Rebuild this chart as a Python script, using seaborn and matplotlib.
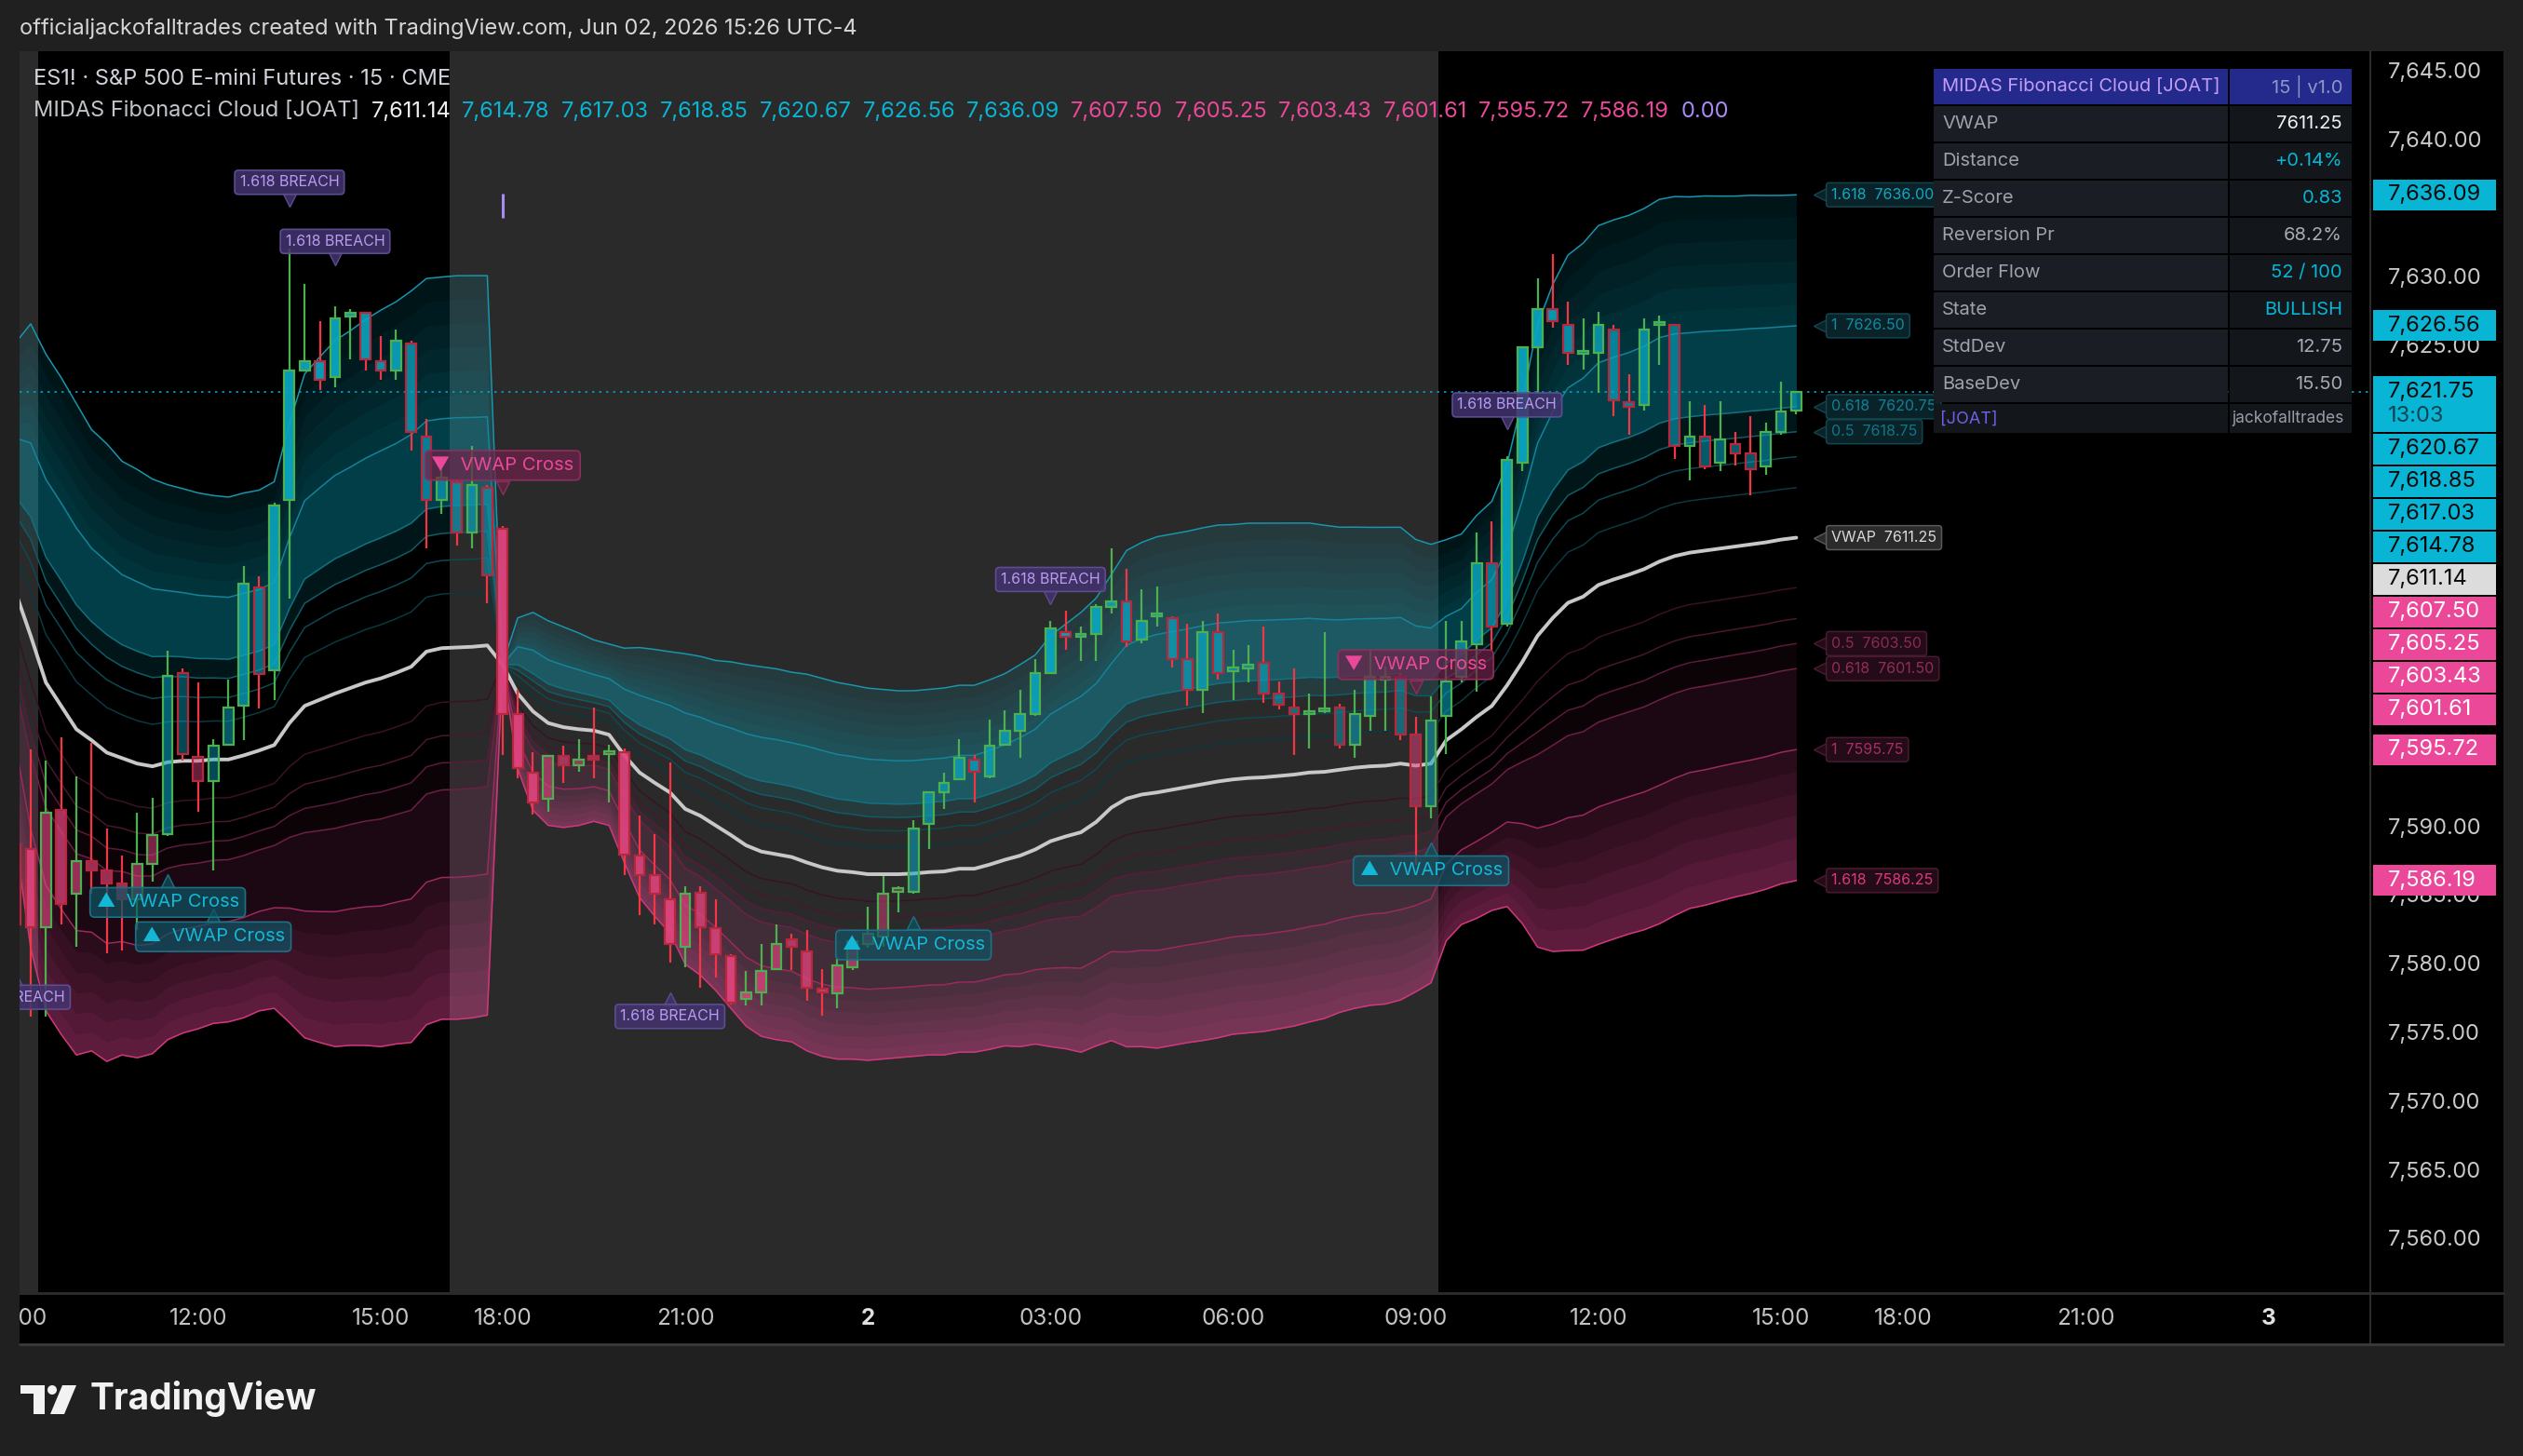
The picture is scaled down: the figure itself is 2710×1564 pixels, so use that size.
# MIDAS Fibonacci Cloud on ES1! 15m - TradingView style recreation
import numpy as np
import pandas as pd
import seaborn as sns
import matplotlib
matplotlib.use('Agg')
import matplotlib.pyplot as plt
from matplotlib.colors import to_rgba
from matplotlib.patches import Rectangle, Polygon, Circle
from matplotlib.transforms import blended_transform_factory

sns.set_theme(style='dark')
plt.rcParams['font.family'] = ['Inter', 'DejaVu Sans']

# ---------------- data (bar 0 = 09:00 day 1) ----------------
opens = [7588.8, 7588.5, 7582.8, 7591.3, 7585.2, 7587.6, 7586.9, 7586.0, 7584.8, 7587.4,
         7589.6, 7601.3, 7595.2, 7593.4, 7596.1, 7598.9, 7607.5, 7601.5, 7613.9, 7623.3,
         7624.0, 7622.8, 7627.2, 7627.5, 7624.0, 7623.3, 7625.25, 7618.5, 7613.9, 7615.2,
         7611.5, 7614.8, 7611.8, 7598.3, 7594.05, 7592.15, 7595.25, 7594.55, 7595.25, 7595.4,
         7595.5, 7588.0, 7586.6, 7584.8, 7581.35, 7585.3, 7582.7, 7580.7, 7577.6, 7578.05,
         7579.75, 7581.9, 7581.0, 7578.3, 7577.95, 7579.9, 7581.6, 7582.1, 7585.4, 7585.4,
         7590.3, 7592.6, 7593.55, 7595.0, 7593.8, 7596.1, 7597.1, 7598.3, 7601.3, 7604.3,
         7603.9, 7604.1, 7606.1, 7606.5, 7603.7, 7605.4, 7605.3, 7602.3, 7600.1, 7604.3,
         7601.45, 7601.6, 7602.0, 7599.8, 7598.8, 7598.3, 7598.5, 7598.8, 7596.1, 7598.2,
         7600.8, 7601.0, 7596.8, 7591.6, 7598.2, 7601.0, 7603.4, 7609.3, 7604.85, 7616.6,
         7625.0, 7627.8, 7626.6, 7624.5, 7624.6, 7626.3, 7621.0, 7620.8, 7626.6, 7626.6,
         7617.85, 7618.5, 7616.6, 7617.95, 7617.25, 7616.3, 7618.8, 7620.4]
highs = [7591.7, 7595.7, 7594.9, 7596.6, 7593.8, 7596.2, 7590.0, 7588.0, 7591.1, 7592.2,
         7602.9, 7601.6, 7600.6, 7596.5, 7600.8, 7609.1, 7608.3, 7613.7, 7632.2, 7629.6,
         7626.9, 7628.0, 7627.8, 7627.6, 7625.8, 7626.3, 7625.5, 7619.8, 7616.1, 7615.4,
         7617.8, 7615.0, 7612.0, 7600.1, 7595.5, 7595.3, 7596.0, 7596.5, 7598.8, 7596.1,
         7595.8, 7590.9, 7589.6, 7594.8, 7585.8, 7585.8, 7584.8, 7580.85, 7579.6, 7581.6,
         7583.0, 7582.3, 7582.6, 7579.75, 7580.5, 7582.0, 7584.3, 7586.5, 7585.8, 7590.6,
         7592.6, 7594.05, 7596.5, 7595.3, 7597.9, 7598.6, 7600.1, 7602.3, 7605.05, 7605.8,
         7604.7, 7606.3, 7610.35, 7608.9, 7607.4, 7607.6, 7605.4, 7604.85, 7605.05, 7605.6,
         7603.0, 7603.3, 7604.7, 7600.7, 7601.6, 7599.8, 7604.3, 7599.05, 7600.1, 7602.9,
         7601.75, 7601.3, 7598.1, 7599.6, 7605.05, 7605.05, 7611.5, 7612.35, 7617.1, 7625.0,
         7630.0, 7631.8, 7628.3, 7627.1, 7627.6, 7626.6, 7623.05, 7627.1, 7627.3, 7626.6,
         7621.05, 7620.8, 7621.05, 7618.8, 7620.0, 7619.5, 7622.5, 7621.8]
lows = [7578.9, 7576.3, 7576.3, 7583.0, 7581.4, 7585.2, 7580.9, 7581.1, 7582.6, 7586.1,
        7589.4, 7594.9, 7591.2, 7586.9, 7596.0, 7596.4, 7598.7, 7599.3, 7606.7, 7623.3,
        7621.9, 7622.1, 7624.1, 7623.3, 7622.6, 7622.6, 7617.5, 7610.35, 7612.9, 7610.6,
        7610.35, 7606.4, 7595.3, 7593.65, 7591.0, 7591.2, 7593.3, 7594.1, 7593.65, 7591.85,
        7586.6, 7583.7, 7583.0, 7580.2, 7579.9, 7578.4, 7579.15, 7577.2, 7577.1, 7577.1,
        7579.75, 7579.65, 7577.45, 7576.35, 7576.9, 7579.65, 7581.3, 7581.35, 7583.9, 7585.2,
        7588.5, 7591.4, 7593.55, 7591.9, 7593.65, 7596.1, 7595.1, 7598.2, 7601.2, 7603.0,
        7602.2, 7602.2, 7605.6, 7603.15, 7603.45, 7604.7, 7601.7, 7598.9, 7598.4, 7600.8,
        7599.3, 7600.6, 7599.1, 7598.65, 7595.3, 7595.8, 7598.4, 7595.8, 7595.1, 7597.1,
        7597.1, 7596.4, 7587.35, 7590.7, 7595.4, 7600.6, 7599.95, 7603.0, 7604.65, 7616.0,
        7621.65, 7626.4, 7623.7, 7623.35, 7621.65, 7620.0, 7618.6, 7620.4, 7623.7, 7616.9,
        7615.3, 7616.15, 7616.0, 7616.4, 7614.2, 7615.7, 7618.6, 7620.1]
closes = [7583.0, 7582.8, 7591.1, 7584.5, 7587.6, 7586.9, 7586.0, 7584.8, 7587.4, 7589.5,
          7601.1, 7595.4, 7593.4, 7596.0, 7598.8, 7607.8, 7601.2, 7613.5, 7623.3, 7624.0,
          7622.6, 7627.1, 7627.5, 7624.1, 7623.3, 7625.5, 7618.8, 7613.9, 7615.5, 7611.5,
          7615.0, 7608.4, 7598.3, 7594.4, 7591.85, 7595.25, 7594.55, 7595.0, 7595.0, 7595.5,
          7588.1, 7586.6, 7585.2, 7581.6, 7585.2, 7582.8, 7580.85, 7577.3, 7578.05, 7579.6,
          7581.6, 7581.35, 7578.4, 7578.05, 7580.0, 7581.8, 7582.3, 7585.25, 7585.6, 7590.0,
          7592.6, 7593.3, 7595.1, 7594.1, 7596.0, 7597.1, 7598.3, 7601.3, 7604.55, 7603.9,
          7604.1, 7606.1, 7606.5, 7603.6, 7605.05, 7605.5, 7602.3, 7600.1, 7604.3, 7601.3,
          7601.6, 7601.9, 7599.8, 7598.95, 7598.3, 7598.4, 7598.6, 7596.1, 7598.3, 7601.0,
          7601.0, 7596.8, 7591.6, 7597.8, 7600.7, 7603.6, 7609.3, 7604.65, 7616.8, 7625.0,
          7627.8, 7626.9, 7624.6, 7624.65, 7626.6, 7621.15, 7620.65, 7626.3, 7626.7, 7617.85,
          7618.5, 7616.3, 7618.3, 7617.3, 7616.1, 7618.8, 7620.3, 7621.75]
vwap = [7607.2, 7604.0, 7600.6, 7598.9, 7597.2, 7596.4, 7595.5, 7595.1, 7594.7, 7594.5,
        7594.8, 7594.9, 7594.9, 7595.0, 7595.0, 7595.3, 7595.65, 7596.05, 7597.65, 7598.9,
        7599.35, 7599.8, 7600.2, 7600.6, 7600.9, 7601.3, 7601.75, 7602.85, 7603.1, 7603.15,
        7603.2, 7603.3, 7601.9, 7599.8, 7598.5, 7597.65, 7597.35, 7597.2, 7597.1, 7596.8,
        7595.3, 7594.05, 7593.3, 7592.6, 7591.4, 7590.9, 7590.2, 7589.5, 7588.75, 7588.3,
        7588.1, 7587.9, 7587.5, 7587.15, 7586.9, 7586.8, 7586.65, 7586.65, 7586.65, 7586.7,
        7586.8, 7586.85, 7587.05, 7587.05, 7587.35, 7587.7, 7588.0, 7588.45, 7589.05, 7589.4,
        7589.7, 7590.45, 7591.5, 7592.15, 7592.45, 7592.6, 7592.8, 7593.0, 7593.2, 7593.4,
        7593.55, 7593.65, 7593.7, 7593.8, 7593.9, 7594.05, 7594.1, 7594.25, 7594.4, 7594.5,
        7594.55, 7594.7, 7594.55, 7594.7, 7596.4, 7597.2, 7598.1, 7598.9, 7600.4, 7602.1,
        7604.0, 7605.3, 7606.4, 7606.85, 7607.7, 7608.1, 7608.45, 7608.85, 7609.4, 7609.8,
        7610.05, 7610.2, 7610.35, 7610.5, 7610.65, 7610.8, 7611.0, 7611.14]
stdev = [11.19, 14.03, 14.77, 14.77, 14.65, 13.97, 13.89, 13.35, 13.23, 12.92,
         12.48, 12.24, 12.05, 11.87, 11.80, 11.80, 11.71, 11.84, 13.47, 14.93,
         15.42, 15.88, 16.07, 16.32, 16.56, 16.69, 16.90, 16.78, 16.69, 16.72,
         16.69, 16.63, 0.0, 3.4, 4.45, 4.6, 4.51, 4.33, 4.08, 4.08,
         4.82, 5.62, 6.0, 6.33, 6.98, 7.17, 7.42, 7.79, 8.13, 8.31,
         8.34, 8.31, 8.47, 8.5, 8.47, 8.41, 8.37, 8.31, 8.25, 8.22,
         8.22, 8.25, 8.25, 8.25, 8.31, 8.37, 8.59, 8.75, 9.24, 9.55,
         9.89, 10.07, 10.48, 11.16, 11.34, 11.5, 11.5, 11.5, 11.53, 11.53,
         11.46, 11.46, 11.43, 11.37, 11.31, 11.22, 11.09, 10.91, 10.82, 10.75,
         10.72, 10.63, 10.17, 9.86, 9.02, 8.78, 9.06, 9.2, 9.95, 11.77,
         14.0, 15.0, 15.64, 15.9, 16.16, 16.17, 16.16, 16.22, 16.29, 16.17,
         16.0, 15.95, 15.85, 15.76, 15.7, 15.6, 15.48, 15.42]

fib_levels = [0.236, 0.382, 0.5, 0.618, 1.0, 1.618]
last_price = 7621.75
countdown = '13:03'

time_ticks = [0, 12, 24, 32, 44, 56, 68, 80, 92, 104, 116, 124, 136, 148]
time_labels = ['09:00', '12:00', '15:00', '18:00', '21:00', '2', '03:00', '06:00',
               '09:00', '12:00', '15:00', '18:00', '21:00', '3']
price_ticks = list(range(7560, 7646, 5))

header_values = [7611.14, 7614.78, 7617.03, 7618.85, 7620.67, 7626.56, 7636.09,
                 7607.50, 7605.25, 7603.43, 7601.61, 7595.72, 7586.19, 0.00]

table_labels = ['VWAP', 'Distance', 'Z-Score', 'Reversion Pr', 'Order Flow', 'State', 'StdDev', 'BaseDev']
table_values = ['7611.25', '+0.14%', '0.83', '68.2%', '52 / 100', 'BULLISH', '12.75', '15.50']

breach_bars = [0, 18, 21, 43, 68, 98]
breach_at = [7577.7, 7637.0, 7632.7, 7576.3, 7608.1, 7620.8]
breach_dir = ['up', 'down', 'down', 'up', 'down', 'down']
cross_bars = [10, 13, 32, 59, 92, 93]
cross_at = [7584.6, 7582.1, 7616.4, 7581.5, 7601.9, 7586.9]
cross_dir = ['up', 'up', 'down', 'up', 'down', 'up']

band_tags = ['1.618  7636.00', '1  7626.50', '0.618  7620.75', '0.5  7618.75', 'VWAP  7611.25',
             '0.5  7603.50', '0.618  7601.50', '1  7595.75', '1.618  7586.25']

# ---------------- colours ----------------
CYAN = '#06b6d4'
PINK = '#ec4899'
PURPLE = '#a98bf5'
GREEN = '#4caf50'
RED = '#f23645'
BG = '#202020'
SESSION = '#2a2a2a'

W, H = 2710, 1564
XMIN, XMAX = 0.25, 154.7
YMIN, YMAX = 7556.25, 7646.52

o, h, l, c = map(np.array, (opens, highs, lows, closes))
vw, sd = np.array(vwap), np.array(stdev)
bars = np.arange(len(o))

fig = plt.figure(figsize=(W / 100, H / 100), dpi=100, facecolor=BG)


def frac(x0, y0, x1, y1):
    return [x0 / W, 1 - y1 / H, (x1 - x0) / W, (y1 - y0) / H]


ax = fig.add_axes(frac(20.7, 55.3, 2545.8, 1387.8))
pax = fig.add_axes(frac(2545.8, 55.3, 2689.3, 1387.8))
tax = fig.add_axes(frac(20.7, 1390, 2545.8, 1443))
ov = fig.add_axes([0, 0, 1, 1], zorder=10)
ov.set_xlim(0, W)
ov.set_ylim(H, 0)
ov.axis('off')
ov.patch.set_alpha(0)

for a in (ax, pax, tax):
    a.set_facecolor('black')
    a.set_xticks([])
    a.set_yticks([])
    for s in a.spines.values():
        s.set_visible(False)
ax.set_xlim(XMIN, XMAX)
tax.set_xlim(XMIN, XMAX)
ax.set_ylim(YMIN, YMAX)
pax.set_ylim(YMIN, YMAX)
pax.set_xlim(0, 1)
tax.set_ylim(0, 1)

# session shading (extended hours)
ax.axvspan(XMIN - 1, 1.5, color=SESSION, lw=0, zorder=0)
ax.axvspan(28.5, 93.5, color=SESSION, lw=0, zorder=0)

# ---------------- fib cloud ----------------
up = {k: vw + k * sd for k in fib_levels}
lo = {k: vw - k * sd for k in fib_levels}


def fill_grad(y_a, y_b, color, a0, a1, n=6):
    for j in range(n):
        y0 = y_a + (y_b - y_a) * j / n
        y1 = y_a + (y_b - y_a) * (j + 1) / n
        ax.fill_between(bars, y0, y1, color=color, alpha=a0 + (a1 - a0) * (j + 0.5) / n,
                        lw=0, zorder=1)


ax.fill_between(bars, up[0.5], up[0.618], color=CYAN, alpha=0.12, lw=0, zorder=1)
ax.fill_between(bars, up[0.618], up[1.0], color=CYAN, alpha=0.34, lw=0, zorder=1)
fill_grad(up[1.0], up[1.618], CYAN, 0.30, 0.10)
ax.fill_between(bars, lo[0.5], lo[0.618], color=PINK, alpha=0.05, lw=0, zorder=1)
ax.fill_between(bars, lo[0.618], lo[1.0], color=PINK, alpha=0.12, lw=0, zorder=1)
fill_grad(lo[1.0], lo[1.618], PINK, 0.16, 0.42)

rows = []
for k in fib_levels:
    rows.append(pd.DataFrame({'bar': bars, 'price': up[k], 'level': f'u{k}'}))
    rows.append(pd.DataFrame({'bar': bars, 'price': lo[k], 'level': f'l{k}'}))
bands = pd.concat(rows, ignore_index=True)
band_pal = {'u0.236': '#0a3940', 'u0.382': '#0c4952', 'u0.5': '#0f5b66', 'u0.618': '#12707e',
            'u1.0': '#15849a', 'u1.618': '#1896ad',
            'l0.236': '#3a1226', 'l0.382': '#4a1630', 'l0.5': '#5c1a3b', 'l0.618': '#6e1f46',
            'l1.0': '#9a2a5f', 'l1.618': '#d0387c'}
sns.lineplot(data=bands, x='bar', y='price', hue='level', palette=band_pal, estimator=None,
             sort=False, legend=False, linewidth=1.1, ax=ax, zorder=2)
sns.lineplot(x=bars, y=vw, color='#c8c8c8', linewidth=2.8, ax=ax, zorder=3)
ax.set_xlabel('')
ax.set_ylabel('')

# session-start marker
ax.vlines(32, 7634.4, 7636.2, color=PURPLE, lw=2.2, zorder=3)

# current price line
ax.axhline(last_price, color='#0a9fbb', lw=1.2, ls=(0, (1.5, 3)), zorder=2)

# ---------------- candles ----------------
is_up = c >= o
b_lo = np.minimum(o, c)
b_hi = np.maximum(o, c)
z = np.abs(c - vw) / np.maximum(sd, 1.0)
alpha = 0.42 + 0.53 * np.clip(z / 1.618, 0, 1)
face = [to_rgba('#0aa6c2' if cc >= vv else '#e0447f', a) for cc, vv, a in zip(c, vw, alpha)]
edge = [GREEN if u else '#b8283d' for u in is_up]
wick = [GREEN if u else RED for u in is_up]
ax.vlines(bars, b_hi, h, colors=wick, lw=1.6, zorder=4)
ax.vlines(bars, l, b_lo, colors=wick, lw=1.6, zorder=4)
ax.bar(bars, np.maximum(b_hi - b_lo, 0.22), bottom=b_lo, width=0.66, color=face,
       edgecolor=edge, linewidth=1.6, zorder=5)


# ---------------- signal labels ----------------
def signal(x, y, text, fc, ec, tc, fs, direction, half):
    ax.text(x, y, text, ha='center', va='center', fontsize=fs, color=tc, zorder=9, clip_on=True,
            bbox=dict(boxstyle='round,pad=0.34,rounding_size=0.25', fc=fc, ec=ec, lw=1.2))
    my = y - half if direction == 'down' else y + half
    ax.plot([x], [my], marker='v' if direction == 'down' else '^', ms=10, color=fc,
            mec=ec, mew=1.0, zorder=8.9, clip_on=True)


for x, y, d in zip(breach_bars, breach_at, breach_dir):
    signal(x, y, '1.618 BREACH', to_rgba('#43336e', 0.85), '#5e4c90', '#b79cf2', 11.5, d, 1.3)
for x, y, d in zip(cross_bars, cross_at, cross_dir):
    if d == 'up':
        signal(x, y, '\u25B2  VWAP Cross', to_rgba('#0f5262', 0.72), '#1c7184', '#14b8d6', 14.5, d, 1.6)
    else:
        signal(x, y, '\u25BC  VWAP Cross', to_rgba('#6e2249', 0.72), '#8f2e5e', PINK, 14.5, d, 1.6)

# right-side band tags
tag_y = [up[1.618][-1], up[1.0][-1], up[0.618][-1], up[0.5][-1], vw[-1],
         lo[0.5][-1], lo[0.618][-1], lo[1.0][-1], lo[1.618][-1]]
tag_style = [('#0a2329', '#12454f', '#14a8c2'), ('#0a2329', '#12454f', '#0f8ba2'),
             ('#0a2329', '#12454f', '#0f8196'), ('#0a2329', '#12454f', '#0f7689'),
             ('#2b2b2b', '#5a5a5a', '#dadada'),
             ('#230b17', '#4a1a31', '#8a2a56'), ('#230b17', '#4a1a31', '#932c5b'),
             ('#230b17', '#4a1a31', '#a52f66'), ('#230b17', '#4a1a31', '#d93a7e')]
for txt, y, (fc, ec, tc) in zip(band_tags, tag_y, tag_style):
    ax.text(119.3, y, txt, ha='left', va='center', fontsize=11.5, color=tc, zorder=9,
            bbox=dict(boxstyle='round,pad=0.34,rounding_size=0.2', fc=fc, ec=ec, lw=1.1))
    ax.plot([118.6], [y], marker='<', ms=11, color=fc, mec=ec, mew=1.0, zorder=8.9)

# ---------------- price scale ----------------
ptr = blended_transform_factory(pax.transAxes, pax.transData)
units_per_px = (YMAX - YMIN) / 1332.5
box_h = 33 * units_per_px
gap = 2 * units_per_px
axis_tags = [(header_values[6], 'cyan'), (header_values[5], 'cyan'), (last_price, 'current'),
             (header_values[4], 'cyan'), (header_values[3], 'cyan'), (header_values[2], 'cyan'),
             (header_values[1], 'cyan'), (header_values[0], 'gray'), (header_values[7], 'pink'),
             (header_values[8], 'pink'), (header_values[9], 'pink'), (header_values[10], 'pink'),
             (header_values[11], 'pink'), (header_values[12], 'pink')]
spans = []
prev_bottom = YMAX + 10
for val, kind in axis_tags:
    top = min(val + box_h / 2, prev_bottom - gap)
    hh = box_h * 1.8 if kind == 'current' else box_h
    bottom = top - hh
    spans.append((bottom, top))
    fc = {'cyan': '#08b5d5', 'current': '#08b5d5', 'gray': '#dcdcdc', 'pink': PINK}[kind]
    tc = 'white' if kind == 'pink' else '#0a0a0a'
    pax.add_patch(Rectangle((0.024, bottom), 0.917, hh, transform=ptr, fc=fc, ec='none', zorder=5))
    pax.text(0.13, top - box_h / 2, f'{val:,.2f}', transform=ptr, ha='left', va='center',
             fontsize=17, color=tc, zorder=6)
    if kind == 'current':
        pax.text(0.13, top - box_h * 1.3, countdown, transform=ptr, ha='left', va='center',
                 fontsize=17, color='#0b4450', zorder=6)
    prev_bottom = bottom

# scale ticks; the ones sitting under a tag are hidden by it
for p in price_ticks:
    if any(b <= p <= t for b, t in spans):
        continue
    pax.text(0.13, p, f'{p:,.2f}', transform=ptr, ha='left', va='center', fontsize=17,
             color='#c9c9c9', zorder=1)

# ---------------- time scale ----------------
ttr = blended_transform_factory(tax.transData, tax.transAxes)
for pos, lab in zip(time_ticks, time_labels):
    tax.text(pos, 0.5, lab, transform=ttr, ha='center', va='center', fontsize=17.5,
             color='#e0e0e0' if lab in ('2', '3') else '#c4c4c4',
             fontweight='bold' if lab in ('2', '3') else 'normal', clip_on=True)

# frame pieces
ov.add_patch(Rectangle((2545.8, 1388), 143.5, 55, fc='black', ec='none'))
ov.plot([2545.8, 2545.8], [55, 1443], color='#2c2c2c', lw=1.5)
ov.plot([20.7, 2689.3], [1389, 1389], color='#2c2c2c', lw=2)
ov.plot([20.7, 2689.3], [1444, 1444], color='#3a3a3a', lw=2)

# ---------------- header texts ----------------
ov.text(20.7, 31, 'officialjackofalltrades created with TradingView.com, Jun 02, 2026 15:26 UTC-4',
        ha='left', va='center', fontsize=17, color='#d6d6d6')
ov.text(36.3, 85, 'ES1! \u00b7 S&P 500 E-mini Futures \u00b7 15 \u00b7 CME', ha='left', va='center',
        fontsize=17, color='#d1d4dc')
renderer = fig.canvas.get_renderer()
t = ov.text(36.3, 119.5, 'MIDAS Fibonacci Cloud [JOAT]', ha='left', va='center', fontsize=17,
            color='#c2c4cc')
head_cols = ['#f0f0f0'] + [CYAN] * 6 + [PINK] * 6 + [PURPLE]
for val, col in zip(header_values, head_cols):
    x = t.get_window_extent(renderer).x1 + 12
    t = ov.text(x, 119.5, f'{val:,.2f}', ha='left', va='center', fontsize=17, color=col)

# ---------------- stats table ----------------
tx0, tx1, tx2 = 2077, 2394, 2526
ov.add_patch(Rectangle((tx0, 74), tx1 - tx0 - 1, 38, fc='#232a8c', ec='none'))
ov.add_patch(Rectangle((tx1 + 1, 74), tx2 - tx1 - 1, 38, fc='#232a8c', ec='none'))
ov.text(tx0 + 9, 93, 'MIDAS Fibonacci Cloud [JOAT]', ha='left', va='center', fontsize=14.5,
        color='#c29cf5')
ov.text(tx2 - 10, 93, '15 | v1.0', ha='right', va='center', fontsize=14.5, color='#8f96c8')
val_cols = ['#f2f2f2', CYAN, CYAN, '#a8abb2', CYAN, CYAN, '#a8abb2', '#a8abb2']
for i, (lab, val) in enumerate(zip(table_labels, table_values)):
    top = 114 + i * 40
    ov.add_patch(Rectangle((tx0, top), tx1 - tx0 - 1, 38, fc='#1a1d23', ec='none'))
    ov.add_patch(Rectangle((tx1 + 1, top), tx2 - tx1 - 1, 38, fc='#13161b', ec='none'))
    ov.text(tx0 + 9, top + 19, lab, ha='left', va='center', fontsize=14.5, color='#9ea2aa')
    ov.text(tx2 - 10, top + 19, val, ha='right', va='center', fontsize=14.5, color=val_cols[i])
ov.add_patch(Rectangle((tx0, 434), tx1 - tx0 - 1, 31, fc='#13161b', ec='none'))
ov.add_patch(Rectangle((tx1 + 1, 434), tx2 - tx1 - 1, 31, fc='#13161b', ec='none'))
ov.text(tx0 + 7, 450, '[JOAT]', ha='left', va='center', fontsize=13, color='#6f62e8')
ov.text(tx2 - 8, 450, 'jackofalltrades', ha='right', va='center', fontsize=12.5, color='#9a9da5')

# ---------------- TradingView logo ----------------
logo_col = '#f2f2f2'
ov.add_patch(Rectangle((22, 1488), 26, 9, fc=logo_col, ec='none'))
ov.add_patch(Rectangle((36, 1488), 12, 31, fc=logo_col, ec='none'))
ov.add_patch(Circle((56, 1493), 5, fc=logo_col, ec='none'))
ov.add_patch(Polygon([(67, 1488), (82, 1488), (69, 1519), (54, 1519)], fc=logo_col, ec='none'))
ov.text(97, 1503, 'TradingView', ha='left', va='center', fontsize=28, fontweight='bold',
        color=logo_col)

fig.savefig('out.png', dpi=100, facecolor=BG)
